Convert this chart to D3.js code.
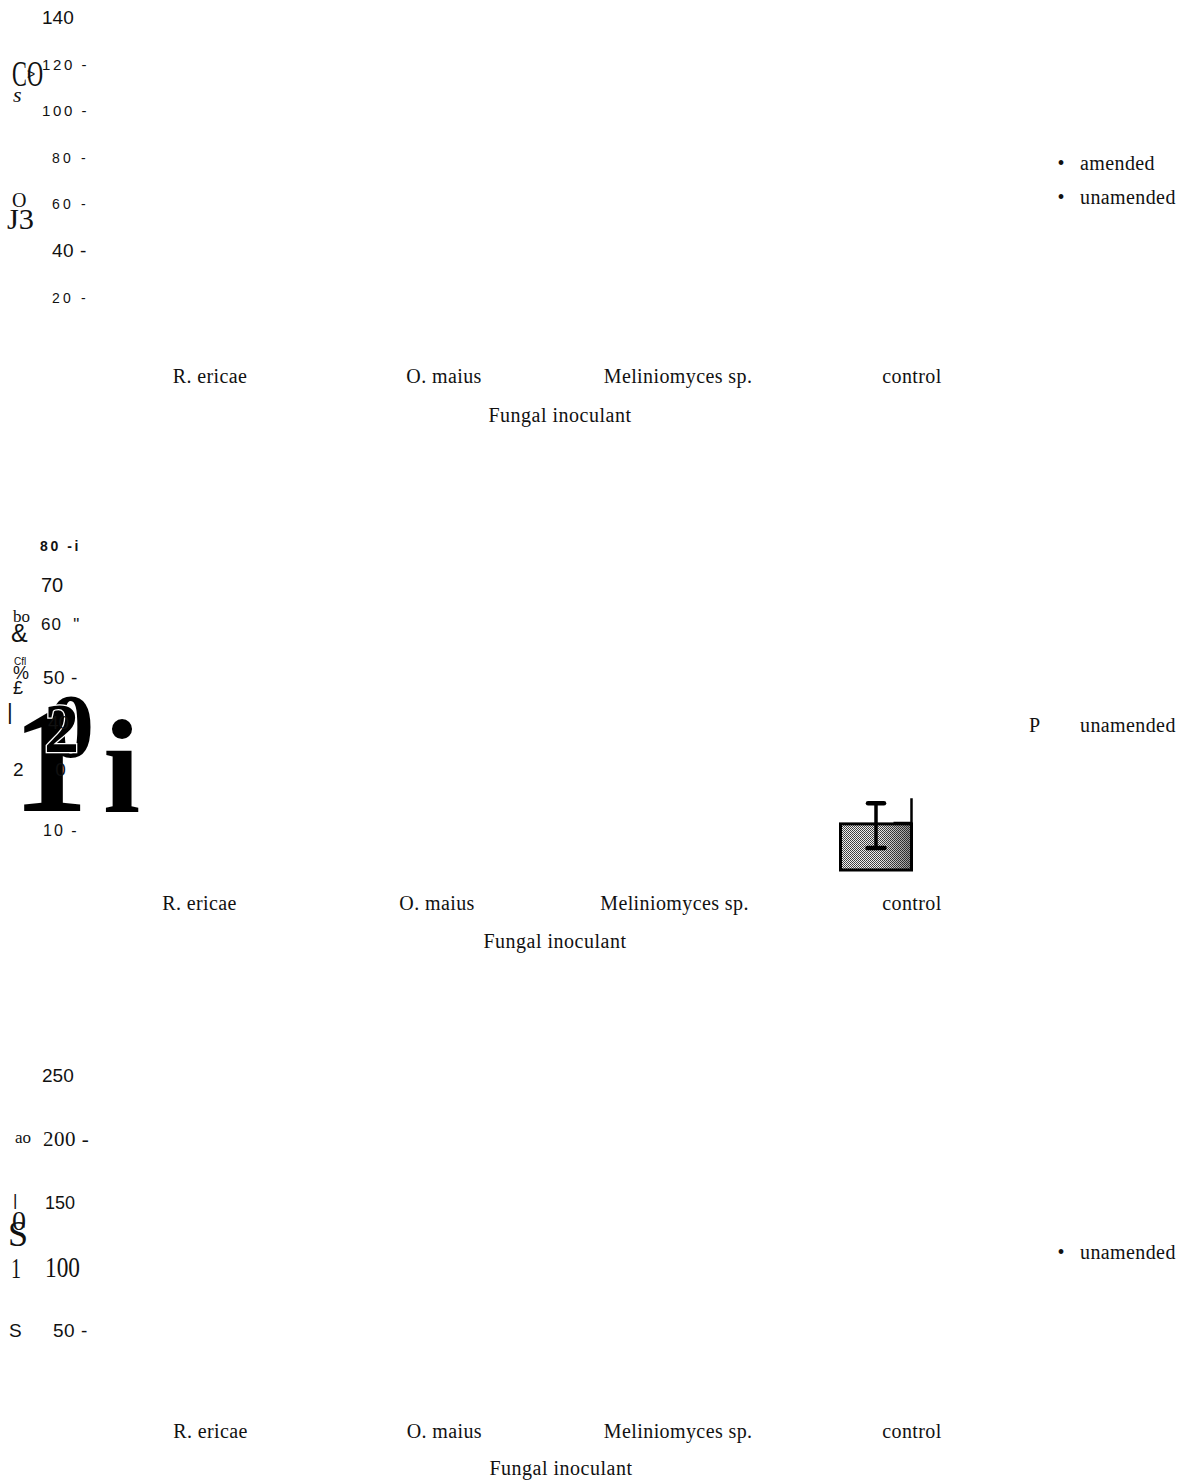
<!DOCTYPE html>
<html><head><meta charset="utf-8">
<script src="https://cdn.jsdelivr.net/npm/d3@7"></script>
<style>
html,body{margin:0;background:#fff;}
svg text{white-space:pre;}
</style></head><body>
<svg id="fig" width="1191" height="1481"></svg>
<script>
// ---- data ----
const categories = ["R. ericae", "O. maius", "Meliniomyces sp.", "control"];
const xTitle = "Fungal inoculant";

// panel A
const ticksA = [140, 120, 100, 80, 60, 40, 20];
const tickTextA = ["140", "120 -", "100 -", "80 -", "60 -", "40 -", "20 -"];
const legendA = ["amended", "unamended"];
const legendMarkA = ["•", "•"];
const yTitleA = ["CO", ">", "s", "O", "J3"];

// panel B
const ticksB = [80, 70, 60, 50, 40, 20, 10];
const tickTextB = ["80 -i", "70", "60  \"", "50 -", "40", "2      0", "10 -"];
const legendB = ["unamended"];
const legendMarkB = ["P"];
const yTitleB = ["bo", "&", "Cfl", "%", "£", "|"];
const bigGlyphsB = ["1", "0", "2", "i"];
const barCatB = ["control"];
const barMeanB = [11];
const barLowB = [5.5];
const barHighB = [14.4];
const barNextB = [15.2];

// panel C
const ticksC = [250, 200, 150, 100, 50];
const tickTextC = ["250", "200 -", "150", "100", "50 -"];
const legendC = ["unamended"];
const legendMarkC = ["•"];
const yTitleC = ["ao", "|", "0", "S", "1", "S"];

// ---- styles ----
const SERIF = '"Liberation Serif","Times New Roman",serif';
const SANS = '"Liberation Sans",Arial,sans-serif';

const svg = d3.select("#fig");
const defs = svg.append("defs");
const pat = defs.append("pattern").attr("id", "stipple")
  .attr("width", 2).attr("height", 2).attr("patternUnits", "userSpaceOnUse");
pat.append("rect").attr("width", 2).attr("height", 2).attr("fill", "#eeeeee");
pat.append("rect").attr("x", 0).attr("y", 0).attr("width", 1).attr("height", 1).attr("fill", "#3a3a3a");
pat.append("rect").attr("x", 1).attr("y", 1).attr("width", 1).attr("height", 1).attr("fill", "#4a4a4a");
const grad = defs.append("linearGradient").attr("id", "shade").attr("x1", 0).attr("x2", 1).attr("y1", 0).attr("y2", 0);
grad.append("stop").attr("offset", "0.55").attr("stop-color", "#000").attr("stop-opacity", 0);
grad.append("stop").attr("offset", "1").attr("stop-color", "#000").attr("stop-opacity", 0.4);

// scales
const yA = d3.scaleLinear().domain([0, 140]).range([343.7, 17]);
const yB = d3.scaleLinear().domain([0, 10, 20, 40, 50, 60, 70, 80])
  .range([870, 830, 769, 722, 677, 624, 584, 545]);
const yC = d3.scaleLinear().domain([0, 250]).range([1393.75, 1075]);
const xA = d3.scalePoint().domain(categories).range([209.5, 911.5]);
const xB = d3.scalePoint().domain(categories).range([199, 911.5]);
const xC = d3.scalePoint().domain(categories).range([210, 911.5]);

// per-label tick styles: [family, size, weight, letterSpacing, left, textLength]
const tickStyleA = [
  [SANS, 19, 400, 0, 42], [SANS, 15, 400, 2.6, 42], [SANS, 15, 400, 2.6, 42],
  [SANS, 14, 400, 3.2, 52], [SANS, 14, 400, 3.2, 52], [SANS, 19, 400, 0.5, 52],
  [SANS, 14, 400, 3.2, 52]];
const tickStyleB = [
  [SANS, 14, 700, 2.6, 40], [SANS, 20, 400, 0, 41], [SANS, 17, 400, 1, 41],
  [SANS, 19, 400, 0.5, 43], [SANS, 19, 400, 0, 48], [SANS, 19, 400, 0, 13],
  [SANS, 16, 400, 2, 43]];
const tickStyleC = [
  [SANS, 19, 400, 0, 42], [SERIF, 21, 400, 0.5, 43], [SANS, 18, 400, 0, 45],
  [SERIF, 30, 400, 0, 45, 35], [SANS, 19, 400, 0.5, 53]];

function yAxis(scale, values, labels, styles) {
  const g = svg.append("g")
    .call(d3.axisLeft(scale).tickValues(values).tickSize(0)
      .tickFormat((d, i) => labels[i]));
  g.select(".domain").remove();
  g.selectAll(".tick line").remove();
  g.selectAll(".tick text").each(function (d, i) {
    const s = styles[i];
    const t = d3.select(this)
      .attr("x", s[4]).attr("dy", null)
      .attr("text-anchor", "start")
      .attr("dominant-baseline", "central")
      .attr("fill", "#111")
      .style("font-family", s[0]).style("font-size", s[1] + "px")
      .style("font-weight", s[2]).style("letter-spacing", s[3] + "px");
    if (s[5]) t.attr("textLength", s[5]).attr("lengthAdjust", "spacingAndGlyphs");
  });
  g.attr("font-family", null).attr("font-size", null);
  return g;
}

function xAxis(scale, yPos, titleY, titleX) {
  const g = svg.append("g").attr("transform", `translate(0,${yPos})`)
    .call(d3.axisBottom(scale).tickSize(0));
  g.select(".domain").remove();
  g.selectAll(".tick line").remove();
  g.selectAll(".tick text")
    .attr("y", 0).attr("dy", null)
    .attr("dominant-baseline", "middle")
    .attr("fill", "#111")
    .style("font-family", SERIF).style("font-size", "20px").style("letter-spacing", "0.4px");
  g.attr("font-family", null).attr("font-size", null);
  svg.append("text").attr("x", titleX).attr("y", titleY)
    .attr("text-anchor", "middle").attr("dominant-baseline", "middle")
    .attr("fill", "#111")
    .style("font-family", SERIF).style("font-size", "20px").style("letter-spacing", "0.5px")
    .text(xTitle);
}

function legend(items, marks, x0, ys, markX, markAnchor) {
  items.forEach((t, i) => {
    svg.append("text").attr("x", markX).attr("y", ys[i])
      .attr("text-anchor", markAnchor).attr("dominant-baseline", "middle")
      .attr("fill", "#111").style("font-family", SERIF).style("font-size", "20px")
      .text(marks[i]);
    svg.append("text").attr("x", x0).attr("y", ys[i])
      .attr("dominant-baseline", "middle").attr("fill", "#111")
      .style("font-family", SERIF).style("font-size", "20px").style("letter-spacing", "0.4px")
      .text(t);
  });
}

// free-standing glyph fragments beside the y axes:
// [x, baseline, family, size, weight, style, textLength, fill, halo]
function glyphs(list, specs) {
  list.forEach((t, i) => {
    const s = specs[i];
    const el = svg.append("text").attr("x", s[0]).attr("y", s[1])
      .attr("fill", s[7] || "#111")
      .style("font-family", s[2]).style("font-size", s[3] + "px")
      .style("font-weight", s[4]).style("font-style", s[5])
      .text(t);
    if (s[6]) el.attr("textLength", s[6]).attr("lengthAdjust", "spacingAndGlyphs");
    if (s[8]) el.attr("stroke", s[8]).attr("stroke-width", 2.5).attr("paint-order", "stroke");
  });
}

// ---- panel A ----
yAxis(yA, ticksA, tickTextA, tickStyleA);
xAxis(xA, 378, 417, 560);
legend(legendA, legendMarkA, 1080, [165, 199], 1061, "middle");
glyphs(yTitleA, [
  [12, 86, SERIF, 36, 400, "normal", 31],
  [27, 79, SANS, 14, 400, "normal"],
  [13, 102, SERIF, 22, 400, "italic"],
  [12, 207, SERIF, 20, 400, "normal"],
  [7, 229, SERIF, 30, 400, "normal", 27]]);

// ---- panel B ----
// large overprinted glyphs sit beneath the tick labels
glyphs(bigGlyphsB, [
  [12, 811, SERIF, 152, 700, "normal", null, "#000"],
  [48, 757, SERIF, 92, 700, "normal", null, "#000"],
  [44, 752, SERIF, 70, 700, "normal", null, "#000", "#fff"],
  [103, 812, SERIF, 134, 700, "normal", null, "#000"]]);

yAxis(yB, ticksB, tickTextB, tickStyleB);
xAxis(xB, 905, 943, 555);
legend(legendB, legendMarkB, 1080, [727], 1029, "start");
glyphs(yTitleB, [
  [13, 622, SERIF, 17, 400, "normal"],
  [11, 642, SANS, 25, 400, "normal"],
  [14, 665, SANS, 10, 400, "normal"],
  [13, 679, SANS, 18, 400, "normal"],
  [13, 694, SANS, 18, 400, "normal"],
  [7, 719, SANS, 22, 400, "normal"]]);

// control bar with its error bar
const barW = 71;
const bars = svg.append("g");
barCatB.forEach((c, i) => {
  const x0 = xB(c) - barW;
  const yTop = yB(barMeanB[i]);
  const h = yB(0) - yTop;
  bars.append("rect").attr("x", x0).attr("y", yTop).attr("width", barW).attr("height", h)
    .attr("fill", "url(#stipple)");
  bars.append("rect").attr("x", x0).attr("y", yTop).attr("width", barW).attr("height", h)
    .attr("fill", "url(#shade)").attr("stroke", "#000").attr("stroke-width", 3);
  const cx = x0 + barW / 2;
  bars.append("line").attr("x1", cx).attr("x2", cx)
    .attr("y1", yB(barHighB[i])).attr("y2", yB(barLowB[i]))
    .attr("stroke", "#000").attr("stroke-width", 3.5);
  [[barHighB[i], 8], [barLowB[i], 8.5]].forEach(([v, w]) => {
    bars.append("line").attr("x1", cx - w).attr("x2", cx + w)
      .attr("y1", yB(v)).attr("y2", yB(v))
      .attr("stroke", "#000").attr("stroke-width", 4.5).attr("stroke-linecap", "round");
  });
  // edge of the adjoining bar
  bars.append("path")
    .attr("d", `M${xB(c) - 18},${yTop - 1}H${xB(c)}V${yB(barNextB[i])}`)
    .attr("fill", "none").attr("stroke", "#000").attr("stroke-width", 2.5);
});

// ---- panel C ----
yAxis(yC, ticksC, tickTextC, tickStyleC);
xAxis(xC, 1433, 1470, 561);
legend(legendC, legendMarkC, 1080, [1254], 1061, "middle");
glyphs(yTitleC, [
  [15, 1143, SERIF, 17, 400, "normal"],
  [13, 1206, SANS, 17, 200, "normal"],
  [12, 1230, SERIF, 28, 400, "normal"],
  [8, 1246, SERIF, 36, 400, "normal"],
  [11, 1278, SERIF, 30, 400, "normal", 10],
  [9, 1337, SANS, 19, 400, "normal"]]);
</script>
</body></html>
